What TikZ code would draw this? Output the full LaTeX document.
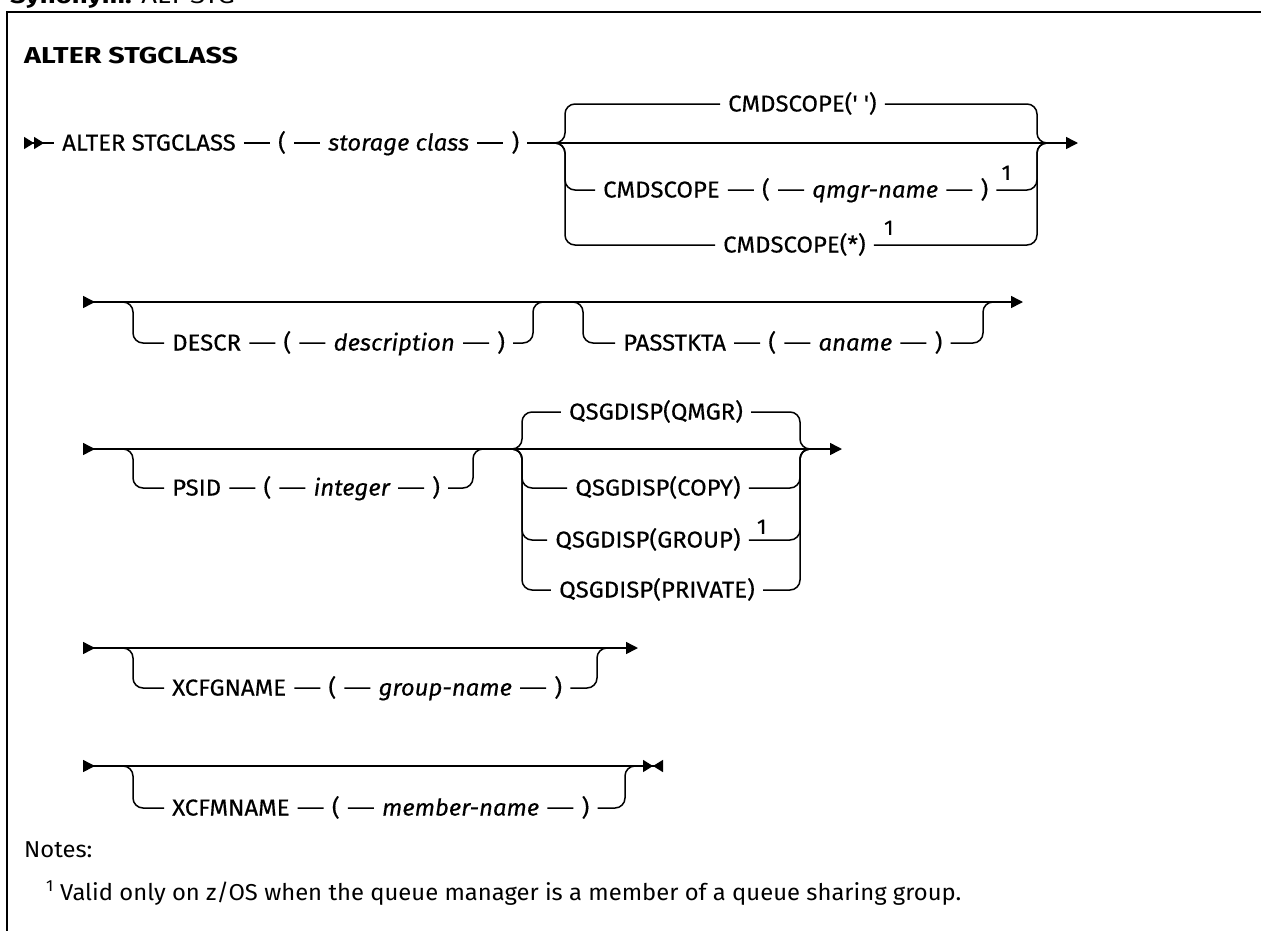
\documentclass[tikz,border=0pt]{standalone}
\usepackage{fontspec}
\setmainfont{Fira Sans}[FakeStretch=1.04, FakeBold=0.4]
\newfontfamily\titlefont{Fira Sans}[FakeStretch=1.25]
\newfontfamily\notefont{Fira Sans}[FakeStretch=1.035]
\usetikzlibrary{arrows.meta, positioning}

\begin{document}
\begin{tikzpicture}[x=1pt, y=-1pt, node distance=26pt,
    kw/.style={inner xsep=8pt, inner ysep=0pt, text height=18pt, text depth=3pt,
      font=\fontsize{23}{27}\selectfont},
    var/.style={kw, font=\fontsize{23}{27}\selectfont\itshape},
    fnmark/.style={inner sep=0pt, anchor=south west, font=\fontsize{21}{25}\selectfont},
    rail/.style={line width=1.5pt, rounded corners=10pt},
    head/.style={-{Triangle[length=12pt, width=12pt]}}]

  \useasboundingbox (0,0) rectangle (1261,930);

  % frame and headings
  \draw[line width=2pt] (7,960) -- (7,12) -- (1290,12);
  \node[anchor=base west, inner sep=0pt, font=\titlefont\fontsize{22}{26}\selectfont] (syn) at (10,3) {\textbf{Synonym:} ALT STG};
  \node[anchor=west, inner sep=0pt, font=\titlefont\fontsize{23}{27}\selectfont\bfseries] (title) at (24,56) {ALTER STGCLASS};

  % row 1: command and CMDSCOPE
  \coordinate (s1) at (24,143);
  \coordinate (j1) at (565,143);
  \coordinate (k1) at (1037,143);
  \coordinate (e1) at (1078,143);
  \node[kw, anchor=west] (alter) at (54,143) {ALTER STGCLASS};
  \node[kw, right=of alter] (lp1) {(};
  \node[var, right=of lp1] (stgc) {storage class};
  \node[kw, right=of stgc] (rp1) {)};
  \node[kw, anchor=west] (csq) at (720,104) {CMDSCOPE(\textquotesingle\ \textquotesingle)};
  \node[kw, anchor=west] (csk) at (595,190) {CMDSCOPE};
  \node[kw, right=of csk] (lp2) {(};
  \node[var, right=of lp2] (qmgr) {qmgr-name};
  \node[kw, right=of qmgr] (rp2) {)};
  \node[fnmark] (n1) at ([xshift=5pt, yshift=10pt]rp2.east) {1};
  \node[kw, anchor=west] (csa) at (715,245) {CMDSCOPE(*)};
  \node[fnmark] (n2) at ([xshift=10pt, yshift=10pt]csa.east) {1};

  \draw[rail, {Triangle[length=10pt, width=12pt, reversed]Triangle[length=10pt, width=12pt, reversed]}-] (s1) -- (alter);
  \draw[rail] (alter) -- (lp1) -- (stgc) -- (rp1);
  \draw[rail, head] (rp1) -- (e1);
  \draw[rail] ([xshift=-12pt]j1) -- (j1) |- (csq) -| (k1) -- ([xshift=12pt]k1);
  \draw[rail] ([xshift=-12pt]j1) -- (j1) |- (csk) -- (lp2) -- (qmgr) -- (rp2) -| (k1) -- ([xshift=12pt]k1);
  \draw[rail] ([xshift=-12pt]j1) -- (j1) |- (csa) -| (k1) -- ([xshift=12pt]k1);

  % row 2: DESCR and PASSTKTA
  \coordinate (s2) at (83,302);
  \coordinate (e2) at (1023,302);
  \coordinate (a2) at (133,302);
  \coordinate (b2) at (533,302);
  \coordinate (c2) at (583,302);
  \coordinate (d2) at (983,302);
  \node[kw, anchor=west] (descr) at (164,343) {DESCR};
  \node[kw, right=of descr] (lp3) {(};
  \node[var, right=of lp3] (desc) {description};
  \node[kw, right=of desc] (rp3) {)};
  \node[kw, anchor=west] (pass) at (615,343) {PASSTKTA};
  \node[kw, right=of pass] (lp4) {(};
  \node[var, right=of lp4] (aname) {aname};
  \node[kw, right=of aname] (rp4) {)};

  \draw[rail, {Triangle[length=12pt, width=12pt, reversed]}-{Triangle[length=12pt, width=12pt]}] (s2) -- (e2);
  \draw[rail] ([xshift=-12pt]a2) -- (a2) |- (descr) -- (lp3) -- (desc) -- (rp3) -| (b2) -- ([xshift=12pt]b2);
  \draw[rail] ([xshift=-12pt]c2) -- (c2) |- (pass) -- (lp4) -- (aname) -- (rp4) -| (d2) -- ([xshift=12pt]d2);

  % row 3: PSID and QSGDISP
  \coordinate (s3) at (83,449);
  \coordinate (e3) at (842,449);
  \coordinate (a3) at (133,449);
  \coordinate (b3) at (473,449);
  \coordinate (c3) at (522,449);
  \coordinate (d3) at (800,449);
  \node[kw, anchor=west] (psid) at (164,488) {PSID};
  \node[kw, right=of psid] (lp5) {(};
  \node[var, right=of lp5] (intg) {integer};
  \node[kw, right=of intg] (rp5) {)};
  \node[kw] (qsgq) at (656,412) {QSGDISP(QMGR)};
  \node[kw] (qsgc) at (658,488) {QSGDISP(COPY)};
  \node[kw] (qsgg) at (648,540) {QSGDISP(GROUP)};
  \node[fnmark] (n3) at ([xshift=8pt, yshift=6pt]qsgg.east) {1};
  \node[kw] (qsgp) at (657,590) {QSGDISP(PRIVATE)};

  \draw[rail, {Triangle[length=12pt, width=12pt, reversed]}-{Triangle[length=12pt, width=12pt]}] (s3) -- (e3);
  \draw[rail] ([xshift=-12pt]a3) -- (a3) |- (psid) -- (lp5) -- (intg) -- (rp5) -| (b3) -- ([xshift=12pt]b3);
  \draw[rail] ([xshift=-12pt]c3) -- (c3) |- (qsgq) -| (d3) -- ([xshift=12pt]d3);
  \draw[rail] ([xshift=-12pt]c3) -- (c3) |- (qsgc) -| (d3) -- ([xshift=12pt]d3);
  \draw[rail] ([xshift=-12pt]c3) -- (c3) |- (qsgg) -| (d3) -- ([xshift=12pt]d3);
  \draw[rail] ([xshift=-12pt]c3) -- (c3) |- (qsgp) -| (d3) -- ([xshift=12pt]d3);

  % row 4: XCFGNAME
  \coordinate (s4) at (83,648);
  \coordinate (e4) at (638,648);
  \coordinate (a4) at (133,648);
  \coordinate (b4) at (597,648);
  \node[kw, anchor=west] (xcfg) at (164,688) {XCFGNAME};
  \node[kw, right=of xcfg] (lp6) {(};
  \node[var, right=of lp6] (grp) {group-name};
  \node[kw, right=of grp] (rp6) {)};

  \draw[rail, {Triangle[length=12pt, width=12pt, reversed]}-{Triangle[length=12pt, width=12pt]}] (s4) -- (e4);
  \draw[rail] ([xshift=-12pt]a4) -- (a4) |- (xcfg) -- (lp6) -- (grp) -- (rp6) -| (b4) -- ([xshift=12pt]b4);

  % row 5: XCFMNAME
  \coordinate (s5) at (83,766);
  \coordinate (e5) at (663,766);
  \coordinate (a5) at (133,766);
  \coordinate (b5) at (625,766);
  \node[kw, anchor=west] (xcfm) at (164,808) {XCFMNAME};
  \node[kw, right=of xcfm] (lp7) {(};
  \node[var, right=of lp7] (mem) {member-name};
  \node[kw, right=of mem] (rp7) {)};

  \draw[rail, {Triangle[length=12pt, width=12pt, reversed]}-{Triangle[length=10pt, width=12pt]Triangle[length=10pt, width=12pt, reversed]}] (s5) -- (e5);
  \draw[rail] ([xshift=-12pt]a5) -- (a5) |- (xcfm) -- (lp7) -- (mem) -- (rp7) -| (b5) -- ([xshift=12pt]b5);

  % notes
  \node[anchor=west, inner sep=0pt, font=\notefont\fontsize{23}{27}\selectfont] (notes) at (24,850) {Notes:};
  \node[anchor=west, inner sep=0pt, font=\notefont\fontsize{23}{27}\selectfont] (note1) at (46,893) {\textsuperscript{1} Valid only on z/OS when the queue manager is a member of a queue sharing group.};
\end{tikzpicture}
\end{document}
